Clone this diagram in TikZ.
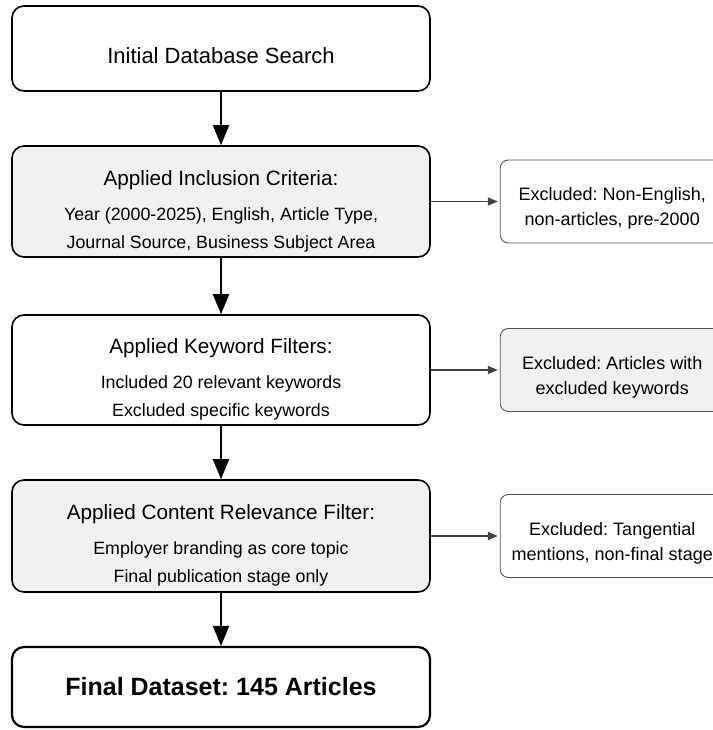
\documentclass[tikz,border=0pt]{standalone}
\usepackage{fontspec}
\setmainfont{Liberation Sans}
\usepackage{xcolor}
\usepackage{tikz}
\usetikzlibrary{
    positioning,
    arrows.meta
}
\definecolor{fillGray}{RGB}{240, 240, 240}
\definecolor{sideGray}{RGB}{85, 85, 85}
\newcommand{\dropline}[1]{\rule{0pt}{#1}}
\frenchspacing

\begin{document}
\begin{tikzpicture}[x=1pt, y=1pt,
    stage/.style={draw, line width=1.6pt, rounded corners=12pt,
        minimum width=418pt, inner sep=0pt, align=center,
        font=\fontsize{17.8}{28}\selectfont},
    sidebox/.style={draw=sideGray, line width=0.9pt, rounded corners=8pt,
        minimum width=224pt, minimum height=83pt, inner sep=0pt, align=center,
        font=\fontsize{18}{25}\selectfont},
    flow/.style={-{Triangle[length=20pt, width=16pt]}, line width=2pt},
    skip/.style={-{Triangle[length=10pt, width=8pt]}, line width=1.3pt, draw=black!75}
]
            \useasboundingbox (0, 0) rectangle (712, -730);

            % main stages
            \node[stage, minimum height=85pt] (search) at (221, -48.5)
                {\dropline{30pt}\fontsize{22}{26}\selectfont Initial Database Search};
            \node[stage, minimum height=111pt, fill=fillGray] (inclusion) at (221, -201.5)
                {\dropline{34pt}{\fontsize{20.7}{24}\selectfont Applied Inclusion Criteria:}\\[7pt]
                 Year (2000-2025), English, Article Type,\\
                 Journal Source, Business Subject Area};
            \node[stage, minimum height=110pt] (keyword) at (221, -370)
                {\dropline{34pt}{\fontsize{20.7}{24}\selectfont Applied Keyword Filters:}\\[7pt]
                 Included 20 relevant keywords\\
                 Excluded specific keywords};
            \node[stage, minimum height=112pt, fill=fillGray] (content) at (221, -536)
                {\dropline{34pt}{\fontsize{20.7}{24}\selectfont Applied Content Relevance Filter:}\\[7pt]
                 Employer branding as core topic\\
                 Final publication stage only};
            \node[stage, minimum height=80pt, line width=2.2pt] (final) at (221, -687)
                {\fontsize{25}{30}\selectfont\bfseries Final Dataset: 145 Articles};

            % excluded records
            \node[sidebox, right=69pt of inclusion] (outA)
                {\dropline{27pt}Excluded: Non-English,\\non-articles, pre-2000};
            \node[sidebox, fill=fillGray, right=69pt of keyword] (outB)
                {\dropline{27pt}Excluded: Articles with\\excluded keywords};
            \node[sidebox, right=69pt of content] (outC)
                {\dropline{27pt}Excluded: Tangential\\mentions, non-final stage};

            \draw[flow] (search) -- (inclusion);
            \draw[flow] (inclusion) -- (keyword);
            \draw[flow] (keyword) -- (content);
            \draw[flow] (content) -- (final);

            \draw[skip] (inclusion.east) -- ([xshift=-2pt]outA.west);
            \draw[skip] (keyword.east) -- ([xshift=-2pt]outB.west);
            \draw[skip] (content.east) -- ([xshift=-2pt]outC.west);
        \end{tikzpicture}
\end{document}
